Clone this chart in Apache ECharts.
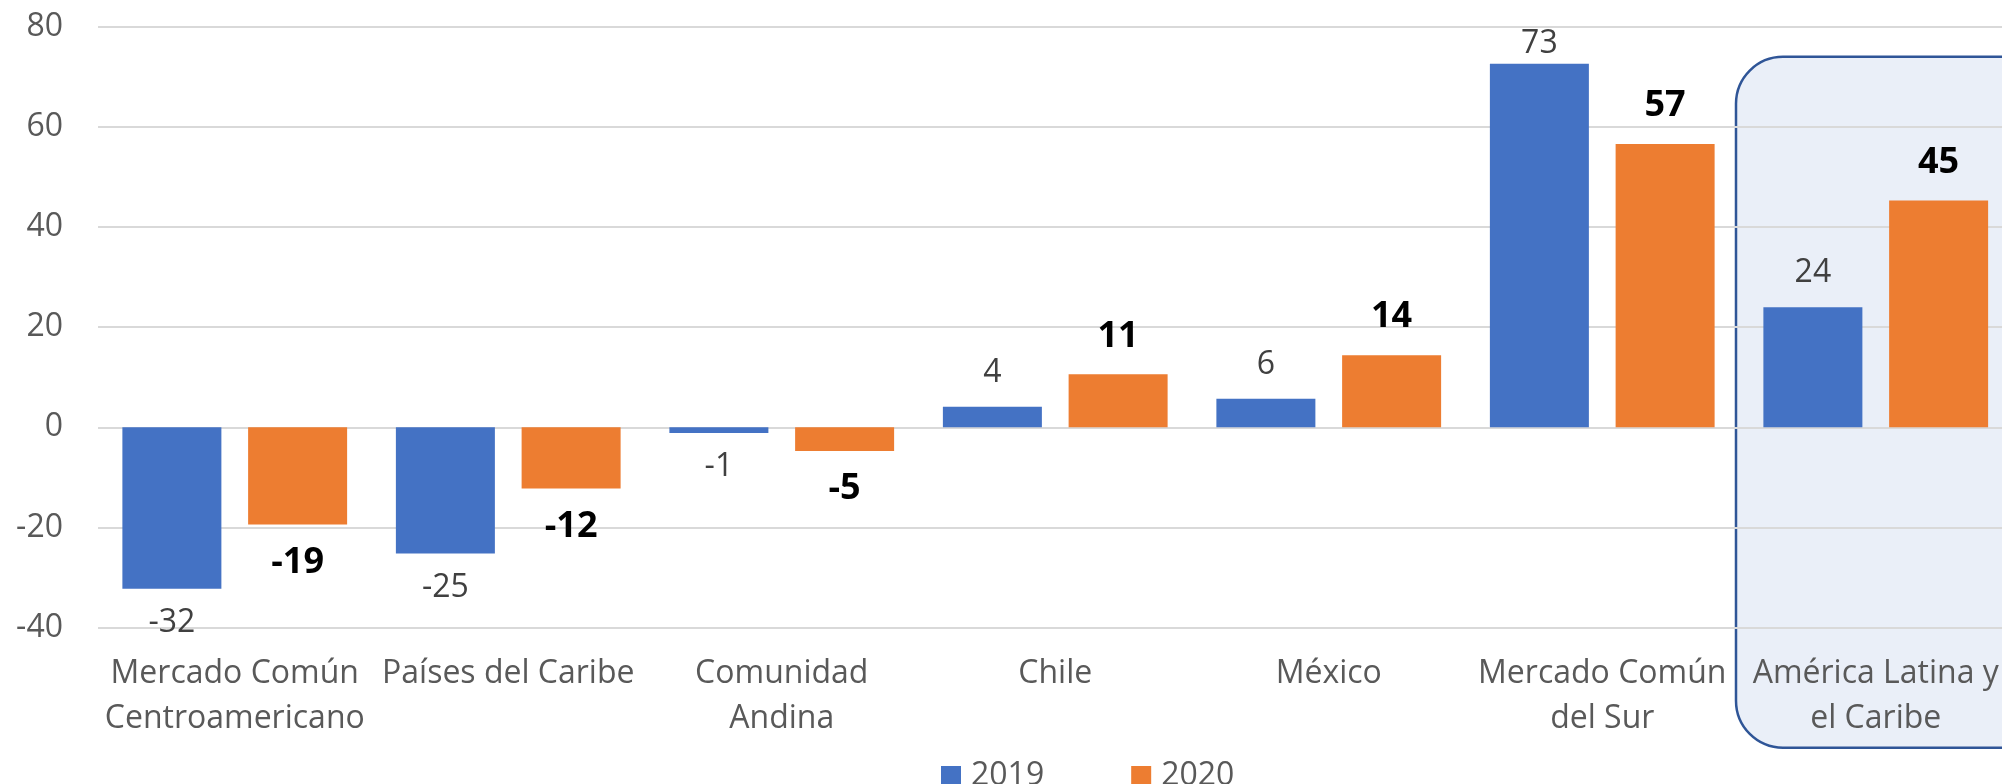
<!DOCTYPE html>
<html>
<head>
<meta charset="utf-8">
<script src="https://cdn.jsdelivr.net/npm/echarts@6/dist/echarts.min.js"></script>
<style>
  html, body { margin: 0; padding: 0; background: #ffffff; overflow: hidden; width: 2002px; height: 784px; }
  #chart { width: 2013px; height: 784px; }
</style>
</head>
<body>
<div id="chart"></div>
<script>
const categories = [
  'Mercado Común\nCentroamericano',
  'Países del Caribe',
  'Comunidad\nAndina',
  'Chile',
  'México',
  'Mercado Común\ndel Sur',
  'América Latina y\nel Caribe'
];
const seriesNames = ['2019', '2020'];
const values2019 = [-32.2, -25.2, -1.1, 4.1, 5.7, 72.6, 24.0];
const values2020 = [-19.4, -12.2, -4.7, 10.6, 14.4, 56.6, 45.3];
const yMin = -40;
const yMax = 80;
const yInterval = 20;
const highlightCategory = 'América Latina y\nel Caribe';

const FONT = 'Open Sans';
const BLUE = '#4472C4';
const ORANGE = '#ED7D31';

function buildData(values, dist, overrides) {
  return values.map((v, i) => {
    const d = (overrides && overrides[i] !== undefined) ? overrides[i] : dist;
    return {
      value: v,
      label: { position: v < 0 ? 'bottom' : 'top', distance: d }
    };
  });
}

const chart = echarts.init(document.getElementById('chart'), null, { renderer: 'canvas' });

const option = {
  animation: false,
  backgroundColor: '#ffffff',
  grid: { left: 98, right: 0.5, top: 26.7, bottom: 156.3, containLabel: false },
  legend: {
    data: seriesNames,
    left: 936,
    top: 755,
    icon: 'rect',
    itemWidth: 20,
    itemHeight: 20,
    itemGap: 87,
    textStyle: { fontFamily: FONT, fontSize: 32, color: '#595959', padding: [0, 0, 0, 5] }
  },
  xAxis: {
    type: 'category',
    data: categories,
    axisLine: { show: false },
    axisTick: { show: false },
    axisLabel: {
      interval: 0,
      margin: 24,
      fontFamily: FONT,
      fontSize: 32,
      lineHeight: 45,
      color: '#595959',
      verticalAlign: 'top'
    }
  },
  yAxis: {
    type: 'value',
    min: yMin,
    max: yMax,
    interval: yInterval,
    axisLine: { show: false },
    axisTick: { show: false },
    axisLabel: { margin: 35, fontFamily: FONT, fontSize: 32, color: '#595959' },
    splitLine: { lineStyle: { color: '#D9D9D9', width: 2 } }
  },
  series: [
    {
      name: seriesNames[0],
      type: 'bar',
      barWidth: 99,
      barGap: '27%',
      itemStyle: { color: BLUE },
      label: {
        show: true,
        fontFamily: FONT,
        fontSize: 32,
        color: '#404040',
        formatter: p => String(Math.round(p.value))
      },
      data: buildData(values2019, 18, { 5: 4 })
    },
    {
      name: seriesNames[1],
      type: 'bar',
      barWidth: 99,
      barGap: '27%',
      itemStyle: { color: ORANGE },
      label: {
        show: true,
        fontFamily: FONT,
        fontSize: 36,
        fontWeight: 'bold',
        color: '#000000',
        formatter: p => String(Math.round(p.value))
      },
      data: buildData(values2020, 20)
    }
  ]
};

chart.setOption(option);

// Highlight box around the last category, positioned via the axes
const idx = categories.indexOf(highlightCategory);
const cx = chart.convertToPixel({ xAxisIndex: 0 }, categories[idx]);
const cxPrev = chart.convertToPixel({ xAxisIndex: 0 }, categories[idx - 1]);
const band = cx - cxPrev;
const boxLeft = cx - band / 2 - 3;
const boxTop = chart.convertToPixel({ yAxisIndex: 0 }, 74);
const axisBottom = chart.convertToPixel({ yAxisIndex: 0 }, yMin);
const boxBottom = axisBottom + 120;

chart.setOption({
  graphic: [{
    type: 'rect',
    z: -1,
    silent: true,
    shape: { x: boxLeft, y: boxTop, width: band + 60, height: boxBottom - boxTop, r: 47 },
    style: { fill: '#EAEFF8', stroke: '#2F5597', lineWidth: 2.5 }
  }]
});
</script>
</body>
</html>
